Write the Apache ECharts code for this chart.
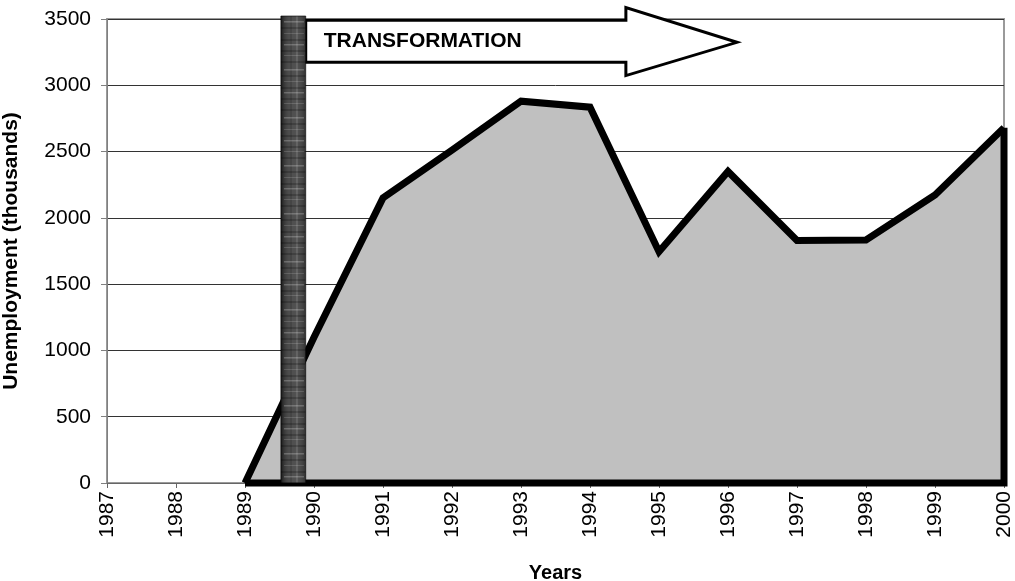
<!DOCTYPE html>
<html>
<head>
<meta charset="utf-8">
<script src="https://cdn.jsdelivr.net/npm/echarts@6/dist/echarts.min.js"></script>
<style>
  html, body { margin: 0; padding: 0; background: #fff; }
  #chart { width: 1015px; height: 581px; }
</style>
</head>
<body>
<div id="chart"></div>
<script>
// data (thousands)
const years = [1987, 1988, 1989, 1990, 1991, 1992, 1993, 1994, 1995, 1996, 1997, 1998, 1999, 2000];
const unemployment = [null, null, 0, 1100, 2150, 2510, 2880, 2835, 1745, 2350, 1830, 1833, 2172, 2680];
const yTicks = [0, 500, 1000, 1500, 2000, 2500, 3000, 3500];

// annotation: the "transformation" bar + arrow (axis units)
const barFrom = 1989.52, barTo = 1989.88;
const arrowHeadX = 1994.52, arrowTipX = 1996.13;
const shaftTop = 3491, shaftBottom = 3173, headTop = 3587, headBottom = 3073, tipY = 3324;

const FONT = 'Liberation Sans, Arial, sans-serif';

const points = years.map((y, i) => [y, unemployment[i]]).filter(p => p[1] !== null);
const first = points[0], last = points[points.length - 1];
// bottom + right edge of the area outline
const closing = [[last[0], last[1]], [last[0], 0], [first[0], 0]];

// dark streaky texture for the bar
function barTexture() {
  const c = document.createElement('canvas');
  c.width = 26; c.height = 48;
  const g = c.getContext('2d');
  for (let x = 0; x < 26; x++) {
    const d = Math.abs(x - 13) / 13;
    const v = Math.round(80 - 50 * d * d * d);
    g.fillStyle = 'rgb(' + v + ',' + v + ',' + v + ')';
    g.fillRect(x, 0, 1, 48);
  }
  g.fillStyle = 'rgba(255,255,255,0.12)';
  g.fillRect(15, 0, 2, 48);
  g.fillStyle = 'rgba(0,0,0,0.12)';
  g.fillRect(9, 0, 2, 48);
  [[5, 0.22], [6, 0.12], [17, 0.14], [28, 0.22], [29, 0.1], [39, 0.15]].forEach(s => {
    g.fillStyle = 'rgba(255,255,255,' + s[1] + ')';
    g.fillRect(3, s[0], 20, 1);
  });
  g.fillStyle = 'rgba(0,0,0,0.2)';
  [11, 23, 34, 45].forEach(y => g.fillRect(0, y, 26, 2));
  return c;
}

const chart = echarts.init(document.getElementById('chart'));
chart.setOption({
  animation: false,
  grid: {
    left: 107, right: 11, top: 19, bottom: 98, outerBoundsMode: 'none', containLabel: false,
    show: true, borderColor: '#9a9a9a', borderWidth: 2
  },
  xAxis: {
    type: 'value', min: years[0], max: years[years.length - 1], interval: 1,
    name: 'Years', nameLocation: 'middle', nameGap: 80,
    nameTextStyle: { fontFamily: FONT, fontSize: 20, fontWeight: 'bold', color: '#000' },
    axisLine: { lineStyle: { color: '#666', width: 1 } },
    axisTick: { length: 5, lineStyle: { color: '#666' } },
    axisLabel: { rotate: 90, margin: 8, fontFamily: FONT, fontSize: 21, color: '#000', formatter: v => String(v) },
    splitLine: { show: false }
  },
  yAxis: {
    type: 'value', min: yTicks[0], max: yTicks[yTicks.length - 1], interval: yTicks[1] - yTicks[0],
    name: 'Unemployment (thousands)', nameLocation: 'middle', nameGap: 85,
    nameTextStyle: { fontFamily: FONT, fontSize: 21, fontWeight: 'bold', color: '#000' },
    axisLine: { show: true, lineStyle: { color: '#808080', width: 1 } },
    axisTick: { show: true, length: 6, lineStyle: { color: '#808080' } },
    axisLabel: { margin: 16, fontFamily: FONT, fontSize: 21, color: '#000', formatter: v => String(v) },
    splitLine: { lineStyle: { color: '#333', width: 1 } }
  },
  series: [
    {
      type: 'line', data: points, symbol: 'none', clip: false, z: 3,
      lineStyle: { color: '#000', width: 7, join: 'miter' },
      areaStyle: { color: '#c0c0c0', opacity: 1 }
    },
    {
      type: 'line', data: closing, symbol: 'none', clip: false, z: 3,
      lineStyle: { color: '#000', width: 7, join: 'miter' }
    }
  ]
});

function drawAnnotations() {
  const px = (x, y) => chart.convertToPixel({ gridIndex: 0 }, [x, y]);
  const b0 = px(barFrom, 0), b1 = px(barTo, yTicks[yTicks.length - 1]);
  const barTop = b1[1] - 3;
  const sL = b1[0], sT = px(barFrom, shaftTop)[1], sB = px(barFrom, shaftBottom)[1];
  const hX = px(arrowHeadX, 0)[0], hT = px(arrowHeadX, headTop)[1], hB = px(arrowHeadX, headBottom)[1];
  const tip = px(arrowTipX, tipY);
  chart.setOption({
    graphic: [
      {
        type: 'polygon', z: 10,
        shape: { points: [[sL, sT], [hX, sT], [hX, hT], tip, [hX, hB], [hX, sB], [sL, sB]] },
        style: { fill: '#fff', stroke: '#000', lineWidth: 3, lineJoin: 'miter' }
      },
      {
        type: 'text', z: 11, x: sL + 18, y: (sT + sB) / 2,
        style: { text: 'TRANSFORMATION', fontFamily: FONT, fontSize: 21, fontWeight: 'bold', fill: '#000', verticalAlign: 'middle' }
      },
      {
        type: 'rect', z: 12, x: b0[0], y: barTop,
        shape: { x: 0, y: 0, width: b1[0] - b0[0], height: b0[1] - barTop },
        style: { fill: { image: barTexture(), repeat: 'repeat' }, stroke: 'rgba(0,0,0,0.6)', lineWidth: 1 }
      }
    ]
  });
}
drawAnnotations();
</script>
</body>
</html>
